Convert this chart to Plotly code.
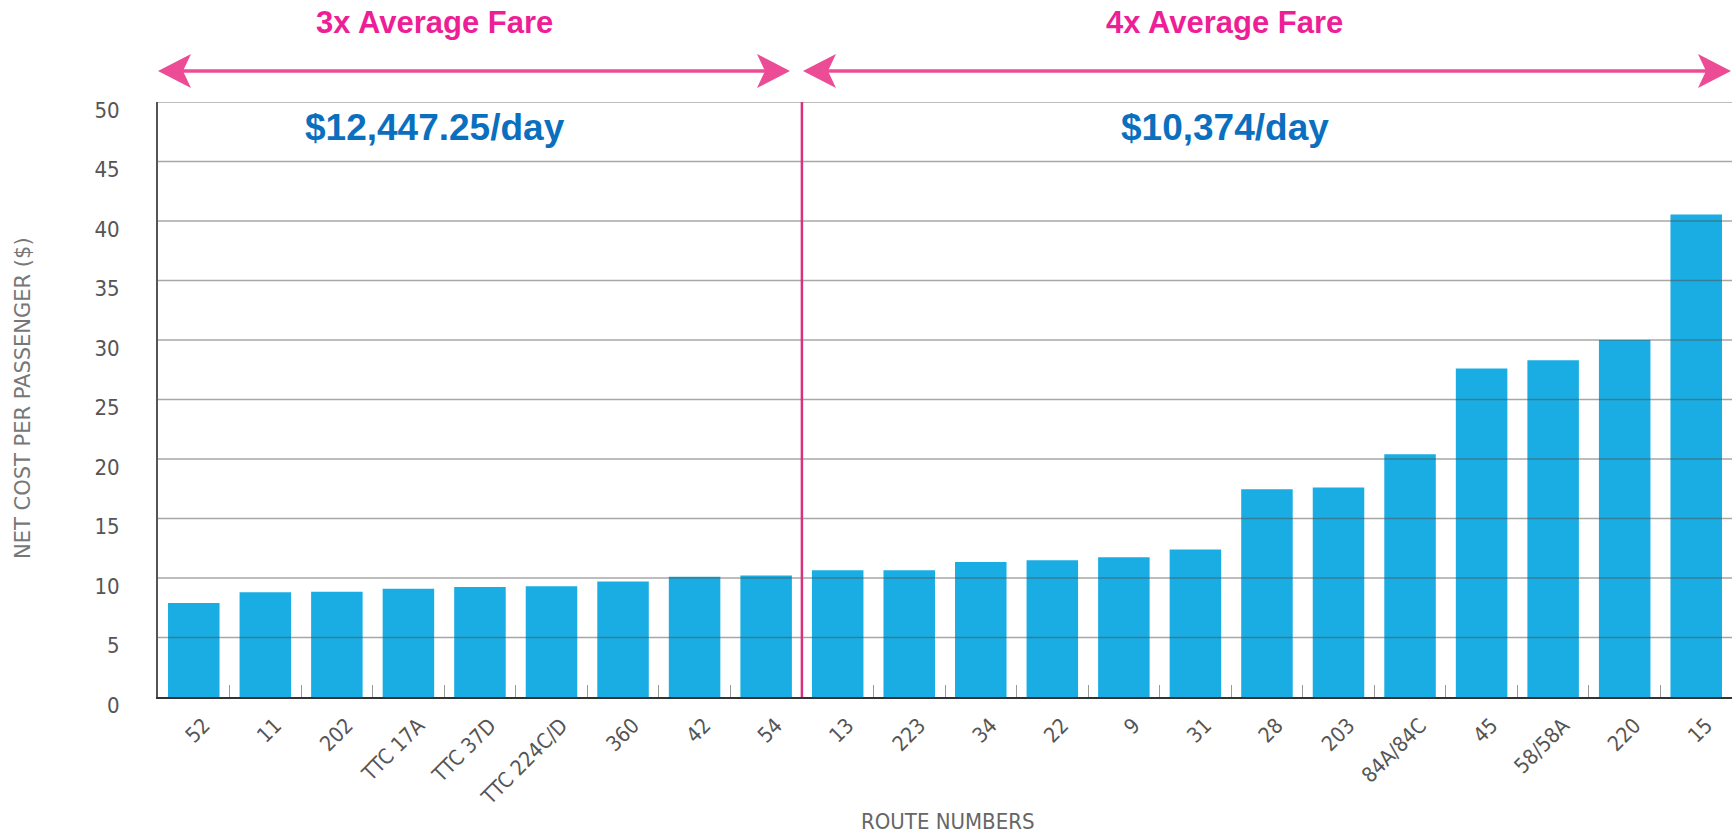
import plotly.graph_objects as go

# ---- data ----
routes = ["52", "11", "202", "TTC 17A", "TTC 37D", "TTC 224C/D", "360", "42", "54",
          "13", "223", "34", "22", "9", "31", "28", "203", "84A/84C", "45", "58/58A", "220", "15"]
net_cost = [7.9, 8.8, 8.85, 9.1, 9.25, 9.3, 9.7, 10.1, 10.2,
            10.65, 10.65, 11.35, 11.5, 11.75, 12.4, 17.45, 17.6, 20.4, 27.6, 28.3, 30.0, 40.55]
y_ticks = [0, 5, 10, 15, 20, 25, 30, 35, 40, 45, 50]
group_titles = ["3x Average Fare", "4x Average Fare"]
group_costs = ["$12,447.25/day", "$10,374/day"]
split_after = 8  # index of last route in the 3x group

# ---- layout geometry (pixels) ----
W, H = 1736, 833
L, R, T, B = 158, 1732, 102, 697
PW, PH = R - L, B - T


def px(x):
    return (x - L) / PW


def py(y):
    return (B - y) / PH


PINK_TXT = "#EE1F96"
PINK_ARW = "#EC4C96"
BLUE_TXT = "#0B6FBF"
BAR = "#1AADE3"
TXT = "#555555"

fig = go.Figure()
fig.add_trace(go.Bar(x=routes, y=net_cost, marker=dict(color=BAR, line=dict(width=0)),
                     width=0.72, showlegend=False, hoverinfo="x+y"))

# arrows
arrow_y = 71
HL, HH, NT = 33, 17, 8


def head(tip, direction):
    d = -direction
    pts = [(tip, arrow_y), (tip + d * HL, arrow_y - HH), (tip + d * (HL - NT), arrow_y),
           (tip + d * HL, arrow_y + HH)]
    return "M " + " L ".join(f"{px(a):.5f},{py(b):.5f}" for a, b in pts) + " Z"


shapes = []
# gridlines drawn over the bars, as in the reference
for v in y_ticks[1:]:
    shapes.append(dict(type="line", xref="paper", yref="y", x0=0, x1=1, y0=v, y1=v,
                       layer="above", line=dict(color="rgba(80,80,80,0.5)", width=1.5)))

for (x0, x1) in [(158, 790), (803, 1731)]:
    shapes.append(dict(type="line", xref="paper", yref="paper",
                       x0=px(x0 + HL - NT), x1=px(x1 - HL + NT), y0=py(arrow_y), y1=py(arrow_y),
                       line=dict(color=PINK_ARW, width=3.5)))
    shapes.append(dict(type="path", xref="paper", yref="paper", path=head(x0, -1),
                       fillcolor=PINK_ARW, line=dict(width=0)))
    shapes.append(dict(type="path", xref="paper", yref="paper", path=head(x1, 1),
                       fillcolor=PINK_ARW, line=dict(width=0)))

# divider between groups
shapes.append(dict(type="line", xref="x", yref="y", x0=split_after + 0.5, x1=split_after + 0.5,
                   y0=0, y1=50, layer="above", line=dict(color="#D8327E", width=2.5)))

annotations = []
for title, cost, cx in zip(group_titles, group_costs, [434, 1224]):
    annotations.append(dict(text=title, xref="paper", yref="paper", x=px(cx), y=py(22),
                            xanchor="center", yanchor="middle", showarrow=False,
                            font=dict(family="Liberation Sans, Arial, sans-serif", size=31,
                                      color=PINK_TXT, weight="bold")))
    annotations.append(dict(text=cost, xref="paper", yref="paper", x=px(cx + 1), y=py(128),
                            xanchor="center", yanchor="middle", showarrow=False,
                            font=dict(family="Liberation Sans, Arial, sans-serif", size=37,
                                      color=BLUE_TXT, weight="bold")))

annotations.append(dict(text="NET COST PER PASSENGER ($)", xref="paper", yref="paper",
                        x=px(23), y=py(398), textangle=-90, xanchor="center", yanchor="middle",
                        showarrow=False,
                        font=dict(family="DejaVu Sans, sans-serif", size=21, color="#777777")))
annotations.append(dict(text="ROUTE NUMBERS", xref="paper", yref="paper",
                        x=px(947), y=py(821), xanchor="center", yanchor="middle",
                        showarrow=False,
                        font=dict(family="DejaVu Sans Condensed, Liberation Sans, sans-serif",
                                  size=22, color="#666666")))

fig.update_layout(
    width=W, height=H,
    margin=dict(l=L, r=W - R, t=T, b=H - B, pad=0),
    paper_bgcolor="white", plot_bgcolor="white",
    bargap=0.28,
    shapes=shapes, annotations=annotations,
    xaxis=dict(type="category", range=[-0.5, len(routes) - 0.5], tickangle=-45,
               tickfont=dict(family="DejaVu Sans Condensed, Liberation Sans, sans-serif",
                             size=21, color=TXT),
               ticks="inside", tickson="boundaries", ticklen=12, tickcolor="#999999",
               tickwidth=1, showgrid=False, showline=True, linecolor="#333333", linewidth=2,
               ticklabelstandoff=6, ticklabelshift=10, zeroline=False, fixedrange=True,
               layer="above traces"),
    yaxis=dict(range=[0, 50], tickvals=y_ticks, ticktext=[str(v) for v in y_ticks],
               tickfont=dict(family="DejaVu Sans Condensed, Liberation Sans, sans-serif",
                             size=22, color=TXT),
               showgrid=False,
               showline=True, linecolor="#555555", linewidth=2, ticks="",
               ticklabelstandoff=32, ticklabelshift=8, zeroline=False, fixedrange=True,
               layer="above traces"),
)

fig.write_html("out.html", config={"displayModeBar": False},
               post_script="document.body.style.margin='0';document.body.style.overflow='hidden';")
